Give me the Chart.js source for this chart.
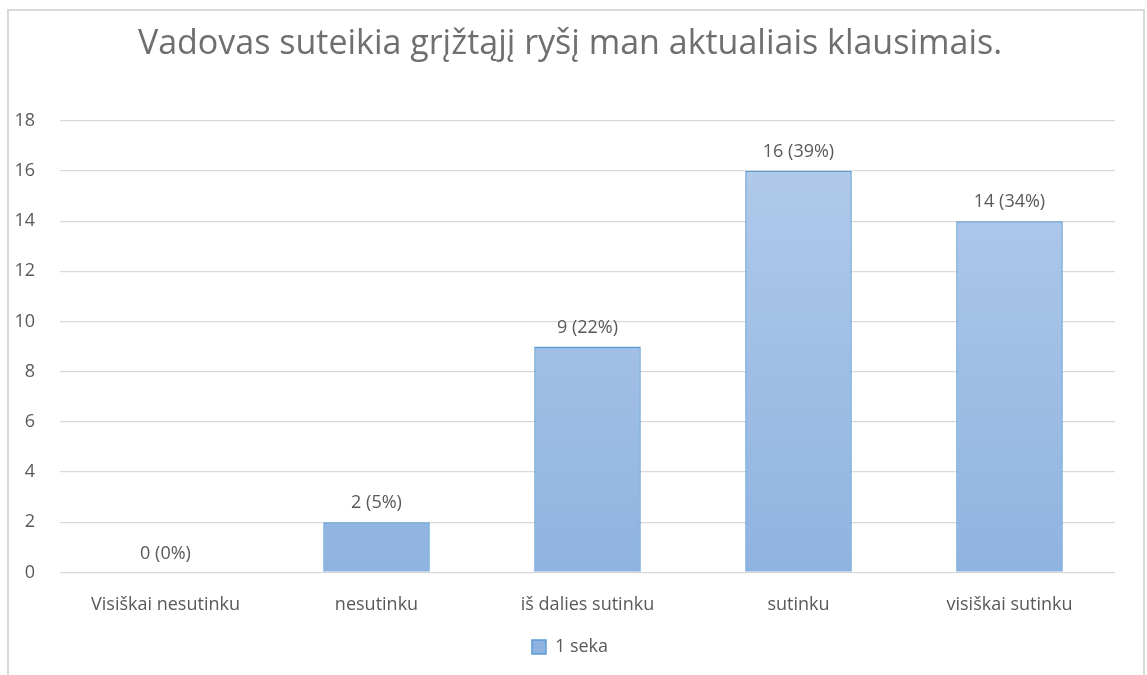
<!DOCTYPE html>
<html>
<head>
<meta charset="utf-8">
<script src="https://cdn.jsdelivr.net/npm/chart.js@4/dist/chart.umd.min.js"></script>
<style>
  html, body { margin: 0; padding: 0; background: #fff; }
  #frame {
    position: absolute; left: 7px; top: 9px; width: 1138px; height: 680px;
    border: 2px solid #d9d9d9; box-sizing: border-box; background: #fff;
  }
  #wrap { position: absolute; left: 0; top: 0; width: 1134px; height: 655px; }
</style>
</head>
<body>
<div id="frame"><div id="wrap"><canvas id="chart"></canvas></div></div>
<script>
const categories = ['Visiškai nesutinku', 'nesutinku', 'iš dalies sutinku', 'sutinku', 'visiškai sutinku'];
const counts = [0, 2, 9, 16, 14];
const percents = ['0%', '5%', '22%', '39%', '34%'];
const seriesName = '1 seka';

const fontName = "'Open Sans', 'Noto Sans', sans-serif";
const grey = '#595959';

//labels above bars, like excel
const barLabels = {
    id: 'barLabels',
    afterDatasetsDraw(chart) {
        const ctx = chart.ctx;
        const meta = chart.getDatasetMeta(0);
        ctx.save();
        ctx.font = '18px ' + fontName;
        ctx.fillStyle = grey;
        ctx.textAlign = 'center';
        ctx.textBaseline = 'bottom';
        meta.data.forEach((bar, i) => {
            ctx.fillText(counts[i] + ' (' + percents[i] + ')', bar.x, bar.y - 10);
        });
        ctx.restore();
    }
};

const canvas = document.getElementById('chart');
const ctx = canvas.getContext('2d');

function barFill(context) {
    const area = context.chart.chartArea;
    if (!area) return '#a6c3e6';
    const g = context.chart.ctx.createLinearGradient(0, area.top, 0, area.bottom);
    g.addColorStop(0, '#b4cceb');
    g.addColorStop(1, '#8fb3e0');
    return g;
}

new Chart(ctx, {
    type: 'bar',
    data: {
        labels: categories,
        datasets: [{
            label: seriesName,
            data: counts,
            backgroundColor: barFill,
            borderColor: '#5b9bd5',
            borderWidth: 1.5,
            categoryPercentage: 1,
            barPercentage: 0.505
        }]
    },
    options: {
        responsive: true,
        maintainAspectRatio: false,
        animation: false,
        layout: { padding: { left: 6, right: 18, top: 0, bottom: 0 } },
        scales: {
            x: {
                grid: { display: false },
                border: { display: false },
                ticks: { color: grey, font: { family: fontName, size: 18 }, padding: 14 },
                //keep plot right edge where excel has it
                afterFit(scale) { scale.paddingLeft = 0; scale.paddingRight = 28; }
            },
            y: {
                min: 0,
                max: 18,
                ticks: { stepSize: 2, color: grey, font: { family: fontName, size: 18 }, padding: 25 },
                grid: { color: '#d9d9d9', lineWidth: 1.3, drawTicks: false },
                border: { display: false },
                afterFit(scale) { scale.width = 45; }
            }
        },
        plugins: {
            title: {
                display: true,
                text: 'Vadovas suteikia grįžtąjį ryšį man aktualiais klausimais.',
                color: '#6f6f6f',
                font: { family: fontName, size: 34, weight: 'normal' },
                padding: { top: 13, bottom: 56 }
            },
            legend: {
                position: 'bottom',
                labels: {
                    color: grey,
                    font: { family: fontName, size: 18 },
                    boxWidth: 14,
                    boxHeight: 14,
                    padding: 8
                }
            },
            tooltip: { enabled: false }
        }
    },
    plugins: [barLabels]
});
</script>
</body>
</html>
